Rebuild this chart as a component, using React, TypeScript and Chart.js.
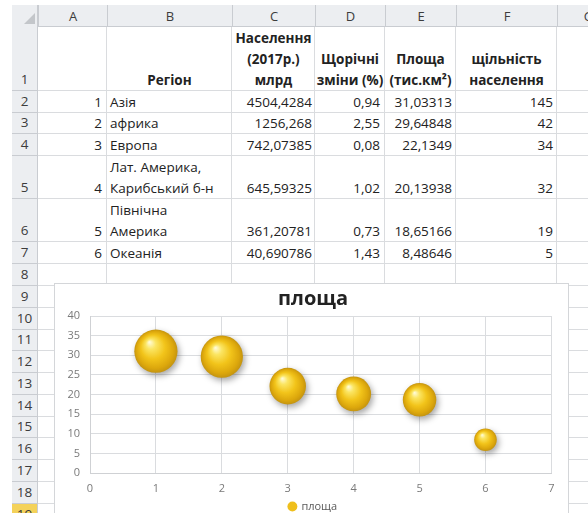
import React, { useEffect, useRef } from 'react';
import { Chart, registerables } from 'chart.js';

Chart.register(...registerables);

// ---------- data ----------
const regionNumbers = [1, 2, 3, 4, 5, 6];
const regionNames = ['Азія', 'африка', 'Европа', 'Лат. Америка,\nКарибський б-н', 'Північна\nАмерика', 'Океанія'];
const population2017 = [4504.4284, 1256.268, 742.07385, 645.59325, 361.20781, 40.690786];
const annualChange = [0.94, 2.55, 0.08, 1.02, 0.73, 1.43];
const areaThousandKm2 = [31.03313, 29.64848, 22.1349, 20.13938, 18.65166, 8.48646];
const density = [145, 42, 34, 32, 19, 5];

const columnLetters = ['A', 'B', 'C', 'D', 'E', 'F', 'G'];
const headerTitles = ['', 'Регіон', 'Населення\n(2017р.)\nмлрд', 'Щорічні\nзміни (%)', 'Площа\n(тис.км²)', 'щільність\nнаселення'];
const chartTitle = 'площа';
const seriesName = 'площа';
const xAxisMin = 0;
const xAxisMax = 7;
const xAxisStep = 1;
const yAxisMin = 0;
const yAxisMax = 40;
const yAxisStep = 5;

// ---------- layout / style constants ----------
const colEdges = [12, 38, 107, 232, 315, 385, 456, 557, 619];
const rowEdges = [5, 27, 91, 113, 134, 156, 199, 242, 264, 286, 308, 330, 351, 373, 395, 417, 438, 460, 482, 504, 526];
const bubbleScale = 3.88;
const FONT = '"Open Sans", "Noto Sans", sans-serif';
const GRID = '#dadcdf';
const HDR_BG = '#eceef1';
const HDR_BORDER = '#c9ccd1';
const BUBBLE_SOLID = '#efbf1c';

const fmt = (v: number) => String(v).replace('.', ',');

function Cell(props: { c: number; r: number; text: string; align: string; bold?: boolean; pl?: number; pr?: number }) {
  const { c, r, text, align, bold, pl = 3, pr = 4 } = props;
  const left = colEdges[c + 1];
  const width = colEdges[c + 2] - left;
  const top = rowEdges[r];
  const height = rowEdges[r + 1] - top;
  return (
    <div
      style={{
        position: 'absolute', left, top, width, height, boxSizing: 'border-box',
        display: 'flex', flexDirection: 'column', justifyContent: 'flex-end',
        textAlign: align as any, paddingLeft: pl, paddingRight: pr,
        lineHeight: '21px', fontSize: 13.5, whiteSpace: 'pre-line', overflow: 'visible',
        fontWeight: bold ? 700 : 400, color: '#222',
      }}
    >
      {text}
    </div>
  );
}

function Sheet() {
  const els: any[] = [];
  const right = 588;
  const bottom = 513;
  els.push(<div key="colhdr" style={{ position: 'absolute', left: colEdges[0], top: rowEdges[0], width: right - colEdges[0], height: rowEdges[1] - rowEdges[0], background: HDR_BG, borderBottom: `1px solid ${HDR_BORDER}`, boxSizing: 'border-box' }} />);
  els.push(<div key="rowhdr" style={{ position: 'absolute', left: colEdges[0], top: rowEdges[0], width: colEdges[1] - colEdges[0], height: bottom - rowEdges[0], background: HDR_BG, borderRight: `1px solid ${HDR_BORDER}`, boxSizing: 'border-box' }} />);
  els.push(<div key="tri" style={{ position: 'absolute', left: 24, top: 13, width: 0, height: 0, borderLeft: '11px solid transparent', borderBottom: '11px solid #c3c6ca' }} />);
  columnLetters.forEach((L, i) => {
    const l = colEdges[i + 1];
    const w = colEdges[i + 2] - l;
    els.push(<div key={'cl' + L} style={{ position: 'absolute', left: l, top: rowEdges[0], width: w, height: rowEdges[1] - rowEdges[0], lineHeight: '22px', textAlign: 'center', fontSize: 13, color: '#3c3c3c', borderLeft: `1px solid ${HDR_BORDER}`, boxSizing: 'border-box' }}>{L}</div>);
    els.push(<div key={'vg' + L} style={{ position: 'absolute', left: colEdges[i + 2] - 1, top: rowEdges[1], width: 1, height: bottom - rowEdges[1], background: GRID }} />);
  });
  for (let r = 1; r < rowEdges.length - 1; r++) {
    const t = rowEdges[r];
    const h = rowEdges[r + 1] - t;
    const selected = r === 19;
    els.push(<div key={'rn' + r} style={{ position: 'absolute', left: colEdges[0], top: t, width: colEdges[1] - colEdges[0], height: h, boxSizing: 'border-box', borderBottom: `1px solid ${HDR_BORDER}`, borderRight: `1px solid ${HDR_BORDER}`, background: selected ? '#f4d25a' : 'transparent', display: 'flex', alignItems: 'flex-end', justifyContent: 'center', lineHeight: '21px', fontSize: 13.5, color: '#3c3c3c' }}>{r}</div>);
    els.push(<div key={'hg' + r} style={{ position: 'absolute', left: colEdges[1], top: rowEdges[r + 1] - 1, width: right - colEdges[1], height: 1, background: GRID }} />);
  }
  headerTitles.forEach((t, i) => {
    if (t) els.push(<Cell key={'h' + i} c={i} r={1} text={t} align="center" bold pl={0} pr={0} />);
  });
  regionNumbers.forEach((n, i) => {
    const r = i + 2;
    els.push(<Cell key={'a' + i} c={0} r={r} text={String(n)} align="right" pr={5} />);
    els.push(<Cell key={'b' + i} c={1} r={r} text={regionNames[i]} align="left" />);
    els.push(<Cell key={'c' + i} c={2} r={r} text={fmt(population2017[i])} align="right" pr={3} />);
    els.push(<Cell key={'d' + i} c={3} r={r} text={fmt(annualChange[i])} align="right" pr={5} />);
    els.push(<Cell key={'e' + i} c={4} r={r} text={fmt(areaThousandKm2[i])} align="right" pr={4} />);
    els.push(<Cell key={'f' + i} c={5} r={r} text={String(density[i])} align="right" pr={4} />);
  });
  return <>{els}</>;
}

function BubbleChart() {
  const ref = useRef<HTMLCanvasElement | null>(null);
  useEffect(() => {
    if (!ref.current) return;
    const points = regionNumbers.map((x, i) => ({ x, y: areaThousandKm2[i], r: bubbleScale * Math.sqrt(areaThousandKm2[i]) }));
    const shadow = {
      id: 'bubbleShadow',
      beforeDatasetsDraw(chart: any) {
        const c = chart.ctx;
        c.save();
        c.shadowColor = 'rgba(0,0,0,0.35)';
        c.shadowBlur = 6;
        c.shadowOffsetX = 2;
        c.shadowOffsetY = 3;
      },
      afterDatasetsDraw(chart: any) {
        chart.ctx.restore();
      },
    };
    const chart = new Chart(ref.current, {
      type: 'bubble',
      data: {
        datasets: [
          {
            label: seriesName,
            data: points,
            borderWidth: 0,
            clip: false as any,
            backgroundColor: (ctx: any) => {
              const raw = ctx.raw;
              const ch = ctx.chart;
              if (!raw || !ch.scales || !ch.scales.x || !ch.scales.y) return BUBBLE_SOLID;
              const cx = ch.scales.x.getPixelForValue(raw.x);
              const cy = ch.scales.y.getPixelForValue(raw.y);
              const r = raw.r;
              if (![cx, cy, r].every((v) => Number.isFinite(v)) || r <= 0) return BUBBLE_SOLID;
              const g = ch.ctx.createRadialGradient(cx - r * 0.3, cy - r * 0.42, r * 0.02, cx, cy, r);
              g.addColorStop(0, '#fffbd6');
              g.addColorStop(0.22, '#fbe562');
              g.addColorStop(0.55, '#f2c41a');
              g.addColorStop(0.85, '#dca70c');
              g.addColorStop(1, '#c49410');
              return g;
            },
          },
        ],
      },
      options: {
        animation: false,
        responsive: false,
        devicePixelRatio: 1,
        layout: { padding: { left: 8, right: 10, top: 0, bottom: 0 } },
        plugins: {
          title: {
            display: true,
            text: chartTitle,
            color: '#222',
            font: { family: FONT, size: 20, weight: 'bold' },
            padding: { top: 3, bottom: 5 },
          },
          legend: {
            display: true,
            position: 'bottom',
            labels: {
              usePointStyle: true,
              pointStyle: 'circle',
              boxWidth: 7,
              boxHeight: 7,
              padding: 4,
              color: '#595959',
              font: { family: FONT, size: 11 },
              generateLabels: (ch: any) => {
                return ch.data.datasets.map((ds: any, i: number) => ({
                  text: ds.label,
                  fillStyle: BUBBLE_SOLID,
                  strokeStyle: BUBBLE_SOLID,
                  lineWidth: 0,
                  pointStyle: 'circle',
                  hidden: false,
                  datasetIndex: i,
                  fontColor: '#595959',
                }));
              },
            },
          },
          tooltip: { enabled: false },
        },
        scales: {
          x: {
            type: 'linear',
            min: xAxisMin,
            max: xAxisMax,
            clip: false,
            afterFit: (s: any) => { s.height = 24; },
            ticks: { stepSize: xAxisStep, padding: 9, color: '#7a7a7a', font: { family: FONT, size: 11 } },
            grid: { color: GRID, drawTicks: false },
            border: { color: '#cfd1d4' },
          },
          y: {
            type: 'linear',
            min: yAxisMin,
            max: yAxisMax,
            clip: false,
            afterFit: (s: any) => { s.width = 27; },
            ticks: { stepSize: yAxisStep, padding: 10, color: '#7a7a7a', font: { family: FONT, size: 11 } },
            grid: { color: GRID, drawTicks: false },
            border: { color: '#cfd1d4' },
          },
        },
      },
      plugins: [shadow],
    } as any);
    return () => chart.destroy();
  }, []);
  return (
    <div style={{ position: 'absolute', left: 54, top: 283, width: 515, height: 240, background: '#fff', border: '1px solid #d4d6d9', boxSizing: 'border-box', overflow: 'hidden' }}>
      <canvas ref={ref} width={518} height={238} style={{ display: 'block' }} />
    </div>
  );
}

export default function App() {
  return (
    <div style={{ position: 'fixed', left: 0, top: 0, width: 588, height: 513, overflow: 'hidden', background: '#fff', fontFamily: FONT }}>
      <Sheet />
      <BubbleChart />
    </div>
  );
}
